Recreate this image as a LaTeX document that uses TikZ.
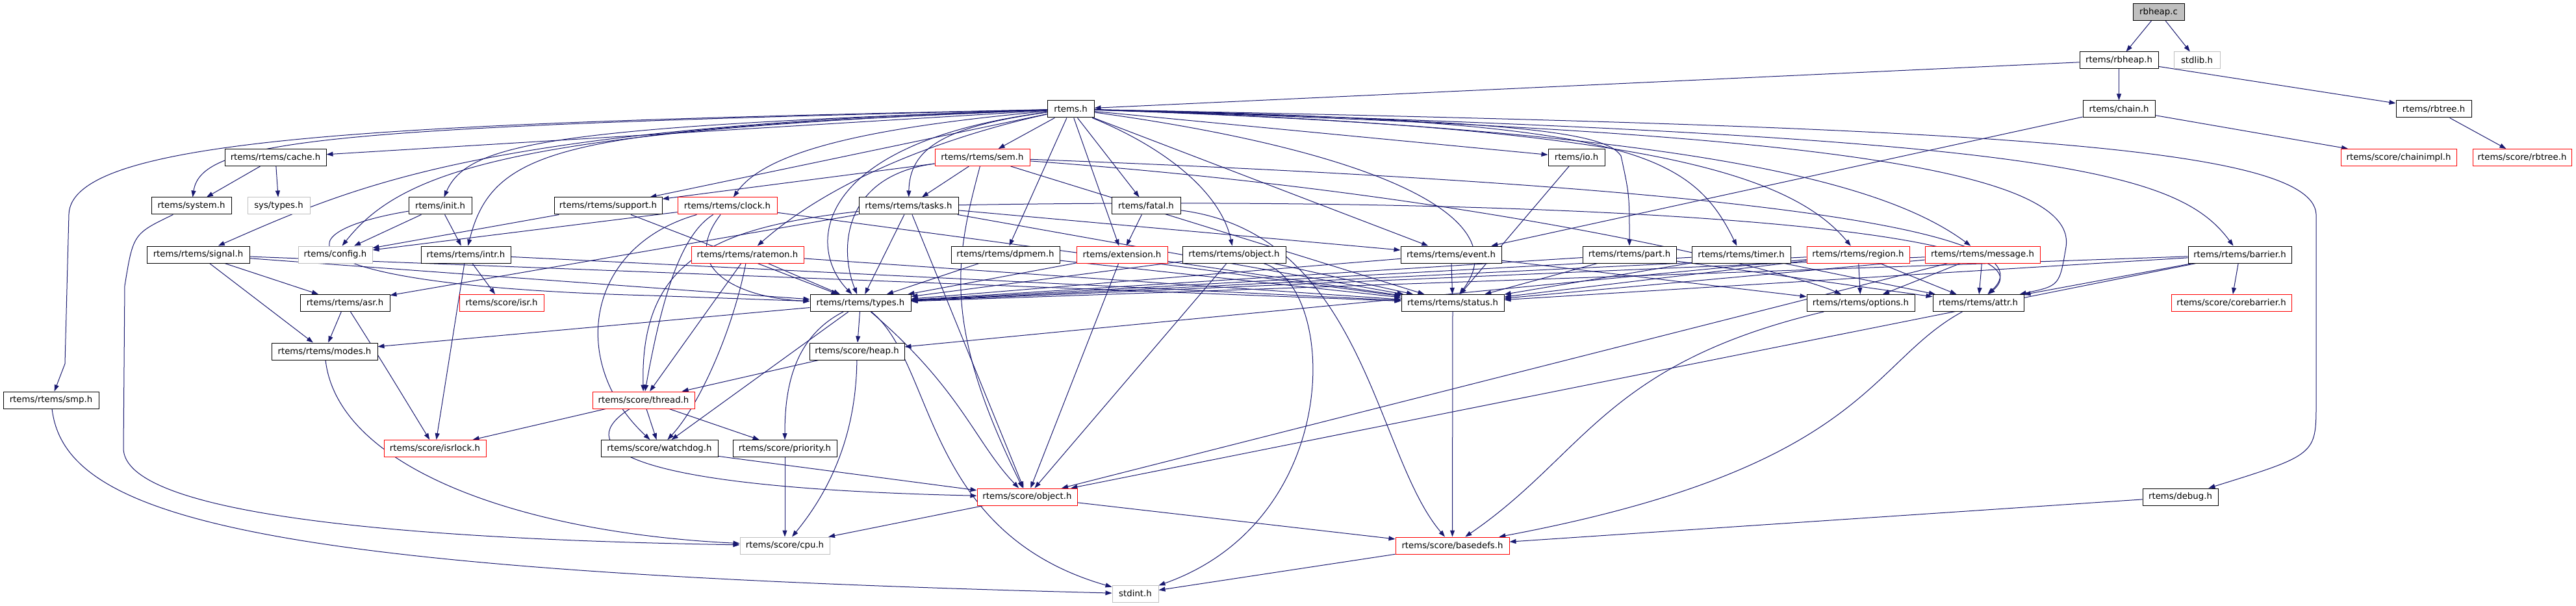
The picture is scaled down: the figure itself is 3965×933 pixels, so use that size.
\documentclass[tikz,border=0pt]{standalone}
\usepackage{fontspec}
\setmainfont{DejaVu Sans}
\usetikzlibrary{arrows.meta,backgrounds}
\definecolor{edgeblue}{HTML}{191970}
\definecolor{graybox}{HTML}{BFBFBF}
\definecolor{redbox}{HTML}{FF0000}
\tikzset{
 nd/.style={draw=black, fill=white, line width=1pt, minimum height=26pt, inner sep=0pt, font=\fontsize{13.3}{15}\selectfont},
 rnd/.style={nd, draw=redbox},
 gnd/.style={nd, draw=graybox},
 e/.style={draw=edgeblue, line width=1pt, -{Triangle[length=10pt,width=7pt]}},
}
\begin{document}
\begin{tikzpicture}[x=1pt,y=-1pt]
\useasboundingbox (0,0) rectangle (3965,933);
% row 0-2
\node[nd,fill=graybox,minimum width=79pt] (rbheapc) at (3322.5,18.5) {rbheap.c};
\node[nd,minimum width=121pt] (rbheaph) at (3261.5,93) {rtems/rbheap.h};
\node[gnd,minimum width=71pt] (stdlibh) at (3381.5,93) {stdlib.h};
\node[nd,minimum width=72pt] (rtemsh) at (1648,168) {rtems.h};
\node[nd,minimum width=111pt] (chainh) at (3261.5,168) {rtems/chain.h};
\node[nd,minimum width=116pt] (rbtreeh) at (3746,168) {rtems/rbtree.h};
% row 3
\node[nd,minimum width=156pt] (cacheh) at (424,242.5) {rtems/rtems/cache.h};
\node[rnd,minimum width=146pt] (semh) at (1512,242.5) {rtems/rtems/sem.h};
\node[nd,minimum width=87pt] (ioh) at (2426.5,242.5) {rtems/io.h};
\node[rnd,minimum width=178pt] (chainimplh) at (3692,242.5) {rtems/score/chainimpl.h};
\node[rnd,minimum width=152pt] (scorerbtreeh) at (3882,242.5) {rtems/score/rbtree.h};
% row 4
\node[nd,minimum width=123pt] (systemh) at (294.5,317) {rtems/system.h};
\node[gnd,minimum width=96pt] (systypesh) at (429,317) {sys/types.h};
\node[nd,minimum width=97pt] (inith) at (677.5,317) {rtems/init.h};
\node[nd,minimum width=166pt] (supporth) at (936,317) {rtems/rtems/support.h};
\node[rnd,minimum width=153pt] (clockh) at (1119.5,317) {rtems/rtems/clock.h};
\node[nd,minimum width=153pt] (tasksh) at (1398.5,317) {rtems/rtems/tasks.h};
\node[nd,minimum width=106pt] (fatalh) at (1764,317) {rtems/fatal.h};
% row 5
\node[nd,minimum width=158pt] (signalh) at (305,392) {rtems/rtems/signal.h};
\node[gnd,minimum width=114pt] (configh) at (516,392) {rtems/config.h};
\node[nd,minimum width=138pt] (intrh) at (717,392) {rtems/rtems/intr.h};
\node[rnd,minimum width=173pt] (ratemonh) at (1150.5,392) {rtems/rtems/ratemon.h};
\node[nd,minimum width=167pt] (dpmemh) at (1547.5,392) {rtems/rtems/dpmem.h};
\node[rnd,minimum width=140pt] (extensionh) at (1727,392) {rtems/extension.h};
\node[nd,minimum width=159pt] (objecth) at (1899.5,392) {rtems/rtems/object.h};
\node[nd,minimum width=155pt] (eventh) at (2233.5,392) {rtems/rtems/event.h};
\node[nd,minimum width=144pt] (parth) at (2508,392) {rtems/rtems/part.h};
\node[nd,minimum width=152pt] (timerh) at (2680,392) {rtems/rtems/timer.h};
\node[rnd,minimum width=158pt] (regionh) at (2860,392) {rtems/rtems/region.h};
\node[rnd,minimum width=177pt] (messageh) at (3051.5,392) {rtems/rtems/message.h};
\node[nd,minimum width=159pt] (barrierh) at (3447.5,392) {rtems/rtems/barrier.h};
% row 6
\node[nd,minimum width=138pt] (asrh) at (531,466.5) {rtems/rtems/asr.h};
\node[rnd,minimum width=130pt] (isrh) at (772,466.5) {rtems/score/isr.h};
\node[nd,minimum width=155pt] (typesh) at (1324.5,466.5) {rtems/rtems/types.h};
\node[nd,minimum width=158pt] (statush) at (2236,466.5) {rtems/rtems/status.h};
\node[nd,minimum width=166pt] (optionsh) at (2864,466.5) {rtems/rtems/options.h};
\node[nd,minimum width=140pt] (attrh) at (3045,466.5) {rtems/rtems/attr.h};
\node[rnd,minimum width=185pt] (corebarrierh) at (3434.5,466.5) {rtems/score/corebarrier.h};
% rows 7-12
\node[nd,minimum width=163pt] (modesh) at (499.5,541) {rtems/rtems/modes.h};
\node[nd,minimum width=146pt] (heaph) at (1319,541) {rtems/score/heap.h};
\node[nd,minimum width=147pt] (smph) at (78.5,616) {rtems/rtems/smp.h};
\node[rnd,minimum width=157pt] (threadh) at (990.5,616) {rtems/score/thread.h};
\node[rnd,minimum width=157pt] (isrlockh) at (669.5,690.5) {rtems/score/isrlock.h};
\node[nd,minimum width=180pt] (watchdogh) at (1015,690.5) {rtems/score/watchdog.h};
\node[nd,minimum width=160pt] (priorityh) at (1208,690.5) {rtems/score/priority.h};
\node[rnd,minimum width=154pt] (scoreobjecth) at (1581,765) {rtems/score/object.h};
\node[nd,minimum width=116pt] (debugh) at (3356,765) {rtems/debug.h};
\node[gnd,minimum width=138pt] (cpuh) at (1208,840) {rtems/score/cpu.h};
\node[rnd,minimum width=175pt] (basedefsh) at (2235.5,840) {rtems/score/basedefs.h};
\node[gnd,minimum width=71pt] (stdinth) at (1747.5,914) {stdint.h};

\begin{pgfonlayer}{background}
\fill[white] (0,0) rectangle (3965,933);
\foreach \a/\b in {rbheapc/rbheaph, rbheapc/stdlibh, rbheaph/rtemsh, rbheaph/chainh, rbheaph/rbtreeh,
  chainh/chainimplh, chainh/eventh, rbtreeh/scorerbtreeh,
  rtemsh/cacheh, rtemsh/supporth, rtemsh/semh, rtemsh/dpmemh, rtemsh/fatalh, rtemsh/extensionh, rtemsh/ioh, rtemsh/eventh,
  cacheh/systemh, cacheh/systypesh, inith/configh, inith/intrh,
  intrh/isrh, intrh/isrlockh, intrh/statush,
  signalh/asrh, signalh/modesh, signalh/typesh, signalh/statush, asrh/modesh,
  supporth/configh, supporth/typesh, clockh/configh, clockh/statush,
  tasksh/typesh, tasksh/scoreobjecth, tasksh/asrh, tasksh/statush, tasksh/eventh,
  ratemonh/typesh, ratemonh/threadh, ratemonh/statush,
  semh/supporth, semh/tasksh, semh/statush,
  dpmemh/typesh, dpmemh/statush, extensionh/typesh, extensionh/statush, extensionh/scoreobjecth,
  fatalh/extensionh, objecth/typesh, objecth/statush, objecth/scoreobjecth,
  eventh/typesh, eventh/statush, eventh/optionsh,
  parth/typesh, parth/statush, parth/attrh, timerh/typesh, timerh/statush, timerh/attrh,
  regionh/typesh, regionh/statush, regionh/optionsh, regionh/attrh, regionh/heaph,
  messageh/typesh, messageh/statush, messageh/optionsh, messageh/attrh, messageh/scoreobjecth,
  barrierh/typesh, barrierh/statush, barrierh/attrh, barrierh/corebarrierh, barrierh/scoreobjecth,
  ioh/statush, statush/basedefsh, typesh/heaph, typesh/modesh, typesh/watchdogh,
  heaph/threadh, threadh/isrlockh, threadh/watchdogh, threadh/priorityh,
  watchdogh/scoreobjecth, priorityh/cpuh, scoreobjecth/cpuh, scoreobjecth/basedefsh,
  debugh/basedefsh, basedefsh/stdinth}
  \draw[e] (\a) -- (\b);
% curved edges from rtems.h
\draw[e] (rtemsh) .. controls (600,190) and (110,210) .. (106,330) -- (100,560) -- (smph);
\draw[e] (rtemsh) .. controls (500,195) and (310,215) .. (systemh);
\draw[e] (rtemsh) .. controls (750,195) and (560,280) .. (signalh);
\draw[e] (rtemsh) .. controls (800,200) and (620,260) .. (configh);
\draw[e] (rtemsh) .. controls (850,195) and (720,220) .. (inith);
\draw[e] (rtemsh) .. controls (880,200) and (760,220) .. (intrh);
\draw[e] (rtemsh) .. controls (1350,195) and (1180,230) .. (clockh);
\draw[e] (rtemsh) .. controls (1450,195) and (1400,230) .. (tasksh);
\draw[e] (rtemsh) .. controls (1500,200) and (1300,260) .. (ratemonh);
\draw[e] (rtemsh) .. controls (1250,220) and (1240,380) .. (typesh);
\draw[e] (rtemsh) .. controls (1800,230) and (1880,300) .. (objecth);
\draw[e] (rtemsh) .. controls (2100,230) and (2340,330) .. (statush);
\draw[e] (rtemsh) .. controls (2300,185) and (2470,200) .. (2495,240) .. controls (2508,300) .. (parth);
\draw[e] (rtemsh) .. controls (2500,185) and (2600,230) .. (timerh);
\draw[e] (rtemsh) .. controls (2500,195) and (2750,260) .. (regionh);
\draw[e] (rtemsh) .. controls (2600,200) and (2900,280) .. (messageh);
\draw[e] (rtemsh) .. controls (3150,210) and (3350,260) .. (barrierh);
\draw[e] (rtemsh) .. controls (3000,195) and (3560,220) .. (3565,330) -- (3565,620) .. controls (3565,700) .. (debugh);
\draw[e] (rtemsh) .. controls (2700,200) and (3200,250) .. (3180,380) .. controls (3170,440) .. (attrh);
% other curved edges
\draw[e] (semh) .. controls (1300,270) and (1290,380) .. (typesh);
\draw[e] (semh) .. controls (1470,400) and (1450,500) .. (scoreobjecth);
\draw[e] (semh) .. controls (2500,280) and (3180,340) .. (attrh);
\draw[e] (semh) .. controls (2300,300) and (2760,420) .. (optionsh);
\draw[e] (tasksh) .. controls (1100,350) and (985,400) .. (threadh);
\draw[e] (tasksh) .. controls (2400,300) and (3180,350) .. (attrh);
\draw[e] (clockh) .. controls (1050,360) and (1020,450) .. (threadh);
\draw[e] (clockh) .. controls (900,380) and (875,560) .. (watchdogh);
\draw[e] (clockh) .. controls (1040,420) and (1150,460) .. (typesh);
\draw[e] (ratemonh) .. controls (1130,500) and (1080,620) .. (watchdogh);
\draw[e] (inith) .. controls (420,360) and (440,440) .. (1000,455) -- (typesh);
\draw[e] (typesh) .. controls (1220,520) and (1208,600) .. (priorityh);
\draw[e] (typesh) .. controls (1440,560) and (1420,820) .. (stdinth);
\draw[e] (typesh) .. controls (1480,600) and (1500,680) .. (scoreobjecth);
\draw[e] (heaph) .. controls (1318,650) and (1290,740) .. (cpuh);
\draw[e] (threadh) .. controls (890,680) and (920,750) .. (scoreobjecth);
\draw[e] (modesh) .. controls (520,720) and (800,820) .. (cpuh);
\draw[e] (systemh) .. controls (205,360) .. (192,440) -- (190,690) .. controls (190,790) and (600,830) .. (cpuh);
\draw[e] (smph) .. controls (100,800) and (400,880) .. (stdinth);
\draw[e] (asrh) .. controls (590,560) .. (isrlockh);
\draw[e] (optionsh) .. controls (2470,560) and (2440,700) .. (basedefsh);
\draw[e] (attrh) .. controls (2874,560) and (2874,720) .. (basedefsh);
\draw[e] (fatalh) .. controls (2100,360) and (2116,700) .. (basedefsh);
\draw[e] (objecth) .. controls (2060,440) and (2070,800) .. (stdinth);
\end{pgfonlayer}
\end{tikzpicture}
\end{document}
